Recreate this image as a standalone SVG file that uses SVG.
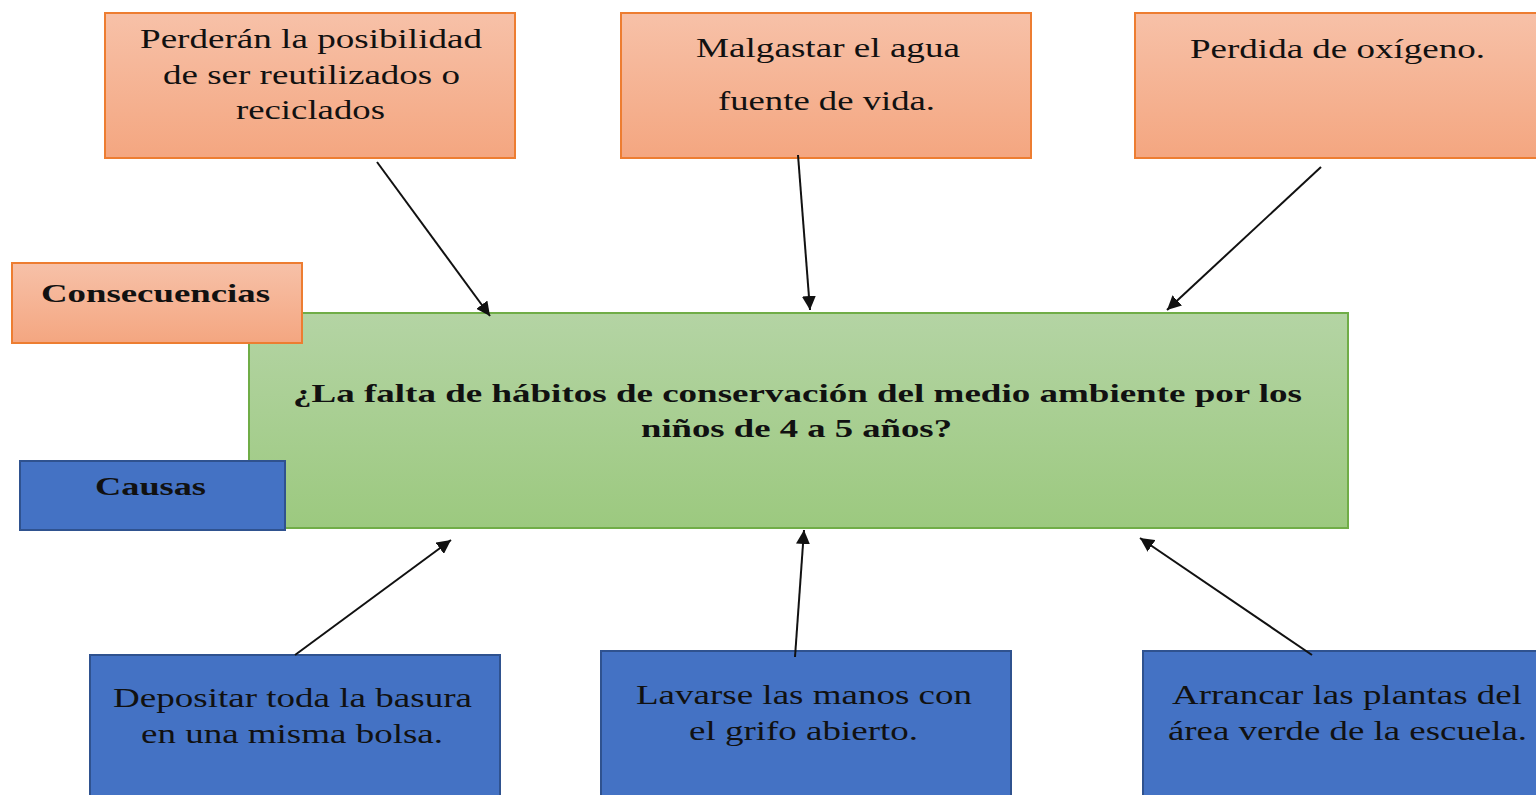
<svg xmlns="http://www.w3.org/2000/svg" width="1536" height="795" viewBox="0 0 1536 795">
<defs>
<linearGradient id="gOr" x1="0" y1="0" x2="0" y2="1"><stop offset="0" stop-color="#f7c1a8"/><stop offset="1" stop-color="#f4a680"/></linearGradient>
<linearGradient id="gGr" x1="0" y1="0" x2="0" y2="1"><stop offset="0" stop-color="#b4d4a4"/><stop offset="1" stop-color="#9cc97f"/></linearGradient>
<marker id="ah" viewBox="0 0 10 10" refX="10" refY="5" markerWidth="14" markerHeight="14" markerUnits="userSpaceOnUse" orient="auto"><path d="M0,0 L10,5 L0,10 z" fill="#111"/></marker>
<style>
.or{fill:url(#gOr);stroke:#ed7d31;stroke-width:2}
.gr{fill:url(#gGr);stroke:#70ad47;stroke-width:2}
.bl{fill:#4472c4;stroke:#2f528f;stroke-width:2}
.t{font-family:"Liberation Serif","Times New Roman",serif;font-size:27px;fill:#111;text-anchor:start}
.b{font-weight:bold;font-size:26px}
.c{stroke:#111;stroke-width:2;fill:none;marker-end:url(#ah)}
</style>
</defs>
<rect width="1536" height="795" fill="#fff"/>
<g id="n1"><rect class="or" x="105" y="13" width="410" height="145"/>
<text class="t" x="140" y="48" textLength="342" lengthAdjust="spacingAndGlyphs">Perderán la posibilidad</text>
<text class="t" x="163" y="84" textLength="297" lengthAdjust="spacingAndGlyphs">de ser reutilizados o</text>
<text class="t" x="236" y="119" textLength="149" lengthAdjust="spacingAndGlyphs">reciclados</text></g>
<g id="n2"><rect class="or" x="621" y="13" width="410" height="145"/>
<text class="t" x="696" y="57" textLength="264" lengthAdjust="spacingAndGlyphs">Malgastar el agua</text>
<text class="t" x="718" y="110" textLength="217" lengthAdjust="spacingAndGlyphs">fuente de vida.</text></g>
<g id="n3"><rect class="or" x="1135" y="13" width="410" height="145"/>
<text class="t" x="1190" y="58" textLength="295" lengthAdjust="spacingAndGlyphs">Perdida de oxígeno.</text></g>
<g id="center"><rect class="gr" x="249" y="313" width="1099" height="215"/>
<text class="t b" x="293" y="402" textLength="1009" lengthAdjust="spacingAndGlyphs">¿La falta de hábitos de conservación del medio ambiente por los</text>
<text class="t b" x="641" y="437" textLength="311" lengthAdjust="spacingAndGlyphs">niños de 4 a 5 años?</text></g>
<g id="consecuencias"><rect class="or" x="12" y="263" width="290" height="80"/>
<text class="t b" x="41" y="302" textLength="229" lengthAdjust="spacingAndGlyphs">Consecuencias</text></g>
<g id="causas"><rect class="bl" x="20" y="461" width="265" height="69"/>
<text class="t b" x="95" y="495" textLength="111" lengthAdjust="spacingAndGlyphs">Causas</text></g>
<g id="c1"><rect class="bl" x="90" y="655" width="410" height="150"/>
<text class="t" x="113" y="707" textLength="359" lengthAdjust="spacingAndGlyphs">Depositar toda la basura</text>
<text class="t" x="141" y="743" textLength="302" lengthAdjust="spacingAndGlyphs">en una misma bolsa.</text></g>
<g id="c2"><rect class="bl" x="601" y="651" width="410" height="154"/>
<text class="t" x="636" y="704" textLength="336" lengthAdjust="spacingAndGlyphs">Lavarse las manos con</text>
<text class="t" x="689" y="740" textLength="229" lengthAdjust="spacingAndGlyphs">el grifo abierto.</text></g>
<g id="c3"><rect class="bl" x="1143" y="651" width="410" height="154"/>
<text class="t" x="1172" y="704" textLength="350" lengthAdjust="spacingAndGlyphs">Arrancar las plantas del</text>
<text class="t" x="1168" y="740" textLength="359" lengthAdjust="spacingAndGlyphs">área verde de la escuela.</text></g>
<g id="connectors">
<line class="c" x1="377" y1="162" x2="490" y2="316"/>
<line class="c" x1="798" y1="155" x2="810" y2="310"/>
<line class="c" x1="1321" y1="167" x2="1167" y2="310"/>
<line class="c" x1="295" y1="655" x2="451" y2="540"/>
<line class="c" x1="795" y1="657" x2="804" y2="530"/>
<line class="c" x1="1312" y1="655" x2="1140" y2="538"/>
</g>
</svg>
